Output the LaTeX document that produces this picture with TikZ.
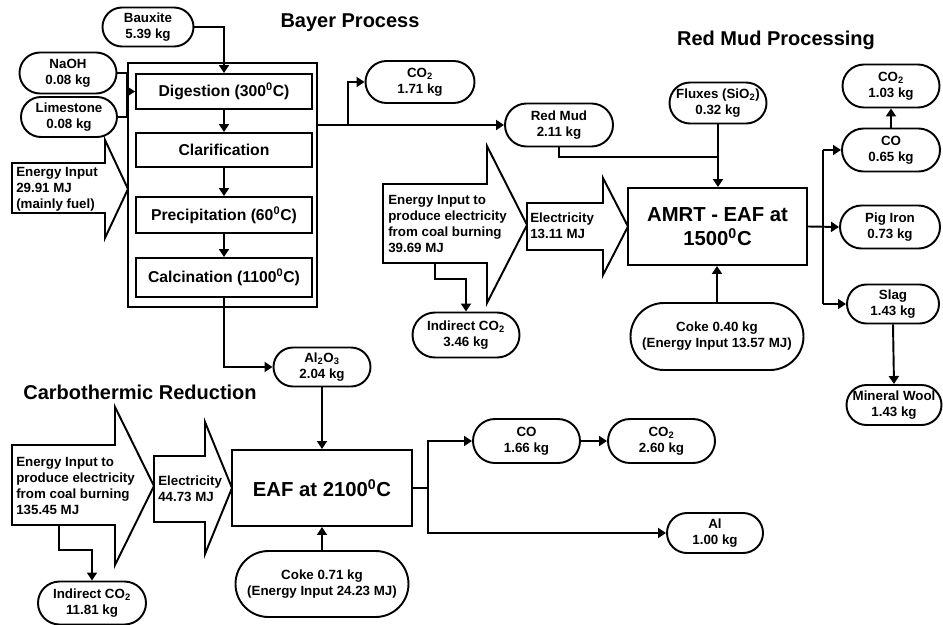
\documentclass[tikz,border=0pt]{standalone}
\usepackage{fontspec}
\setmainfont{Liberation Sans}
\usetikzlibrary{arrows.meta,shapes.misc}
\tikzset{
  lw/.style={line width=1.45pt},
  sz/.style 2 args={minimum width=#1*0.75pt, minimum height=#2*0.75pt},
  pill/.style={draw, lw, fill=white, rounded rectangle, inner sep=0pt, align=center, font=\fontsize{10}{12}\selectfont\bfseries},
  procbox/.style={draw, lw, fill=white, rectangle, inner sep=0pt, align=center, font=\fontsize{11.8}{14}\selectfont\bfseries},
  bigbox/.style={draw, lw, fill=white, rectangle, inner sep=0pt, align=center, font=\fontsize{15.2}{17.5}\selectfont\bfseries},
  outerbox/.style={draw, lw, rectangle, inner sep=0pt},
  titletext/.style={inner sep=0pt, font=\fontsize{15}{18}\selectfont\bfseries},
  blockarrow/.style={draw, lw, fill=white, line join=miter},
  arrtext/.style={anchor=west, align=left, inner sep=0pt, font=\fontsize{10}{12}\selectfont\bfseries},
  conn/.style={lw},
  arr/.style={lw, -{Triangle[length=6pt,width=7.5pt]}},
}
\begin{document}
\begin{tikzpicture}[x=0.75pt,y=-0.75pt]
\fill[white] (0,0) rectangle (943,625);
\useasboundingbox (0,0) rectangle (943,625);

% ---------- Titles
\node[titletext] (t1) at (350,23) {Bayer Process};
\node[titletext] (t2) at (776,40) {Red Mud Processing};
\node[titletext] (t3) at (140,392) {Carbothermic Reduction};

% ---------- Block arrows
\draw[blockarrow] (12,163) -- (105,163) -- (105,140) -- (128,189) -- (105,238) -- (105,213) -- (12,213) -- cycle;
\node[arrtext] (e0) at (16,189) {Energy Input\\29.91 MJ\\(mainly fuel)};

\draw[blockarrow] (383,184) -- (487,184) -- (487,146) -- (527,225) -- (487,303) -- (487,263) -- (383,263) -- cycle;
\node[arrtext] (e1) at (388,224) {Energy Input to\\produce electricity\\from coal burning\\39.69 MJ};
\draw[blockarrow] (527,203) -- (603,203) -- (603,178) -- (628,226.5) -- (603,275) -- (603,250) -- (527,250) -- cycle;
\node[arrtext] (el1) at (530,226) {Electricity\\13.11 MJ};

\draw[blockarrow] (12,445) -- (115,445) -- (115,407) -- (154,486) -- (115,565) -- (115,525) -- (12,525) -- cycle;
\node[arrtext] (e2) at (16,486) {Energy Input to\\produce electricity\\from coal burning\\135.45 MJ};
\draw[blockarrow] (154,456) -- (205,456) -- (205,422) -- (232,488) -- (205,554) -- (205,522) -- (154,522) -- cycle;
\node[arrtext] (el2) at (158,489) {Electricity\\44.73 MJ};

\coordinate (e1b) at (435,263);
\coordinate (e2b) at (59,525);

% ---------- Bayer process
\node[outerbox, sz={189}{244}] (bayerbox) at (222.5,185) {};
\node[pill, sz={91}{39}] (bauxite) at (148,27) {Bauxite\\5.39 kg};
\node[pill, sz={97}{41}] (naoh) at (68,73) {NaOH\\0.08 kg};
\node[pill, sz={96}{40}] (lime) at (69,117) {Limestone\\0.08 kg};
\node[procbox, sz={176}{35}] (dig) at (224,91.5) {Digestion (300\textsuperscript{0}C)};
\node[procbox, sz={176}{34}] (clar) at (224,150) {Clarification};
\node[procbox, sz={176}{36}] (prec) at (224,215) {Precipitation (60\textsuperscript{0}C)};
\node[procbox, sz={176}{39}] (calc) at (224,277.5) {Calcination (1100\textsuperscript{0}C)};

\node[pill, sz={109}{42}] (co2a) at (420,82) {CO\textsubscript{2}\\1.71 kg};
\node[pill, sz={108}{43}] (redmud) at (559,125) {Red Mud\\2.11 kg};

% ---------- Red mud processing
\node[pill, sz={97}{41}] (flux) at (718,103) {Fluxes (SiO\textsubscript{2})\\0.32 kg};
\node[bigbox, sz={179}{77}] (amrt) at (717.5,226.5) {AMRT - EAF at\\1500\textsuperscript{0}C};
\node[pill, sz={173}{67}] (coke1) at (717,336.5) {Coke 0.40 kg\\(Energy Input 13.57 MJ)};
\node[pill, sz={107}{45}] (ind1) at (466,335) {Indirect CO\textsubscript{2}\\3.46 kg};

\node[pill, sz={97}{43}] (co2b) at (891,86) {CO\textsubscript{2}\\1.03 kg};
\node[pill, sz={98}{43}] (co1) at (891,150) {CO\\0.65 kg};
\node[pill, sz={100}{43}] (pig) at (890,227) {Pig Iron\\0.73 kg};
\node[pill, sz={92}{39}] (slag) at (893,304) {Slag\\1.43 kg};
\node[pill, sz={95}{40}] (wool) at (894,405) {Mineral Wool\\1.43 kg};

% ---------- Carbothermic reduction
\node[pill, sz={97}{39}] (al2o3) at (322,367) {Al\textsubscript{2}O\textsubscript{3}\\2.04 kg};
\node[bigbox, sz={180}{76}] (eaf) at (322,488) {EAF at 2100\textsuperscript{0}C};
\node[pill, sz={173}{66}] (coke2) at (322,584) {Coke 0.71 kg\\(Energy Input 24.23 MJ)};
\node[pill, sz={108}{43}] (ind2) at (92,603) {Indirect CO\textsubscript{2}\\11.81 kg};
\node[pill, sz={107}{44}] (co3) at (526.5,441) {CO\\1.66 kg};
\node[pill, sz={107}{44}] (co2c) at (661.5,441) {CO\textsubscript{2}\\2.60 kg};
\node[pill, sz={96}{40}] (al) at (715,533) {Al\\1.00 kg};

% ---------- Connectors: Bayer
\draw[arr] (bauxite.east) -| (dig.north);
\coordinate (jn) at (bayerbox.west |- dig.west);
\draw[conn] (naoh.east) -| (jn);
\draw[conn] (lime.east) -| (jn);
\draw[arr] (jn) -- (dig.west);
\draw[arr] (dig.south) -- (clar.north);
\draw[arr] (clar.south) -- (prec.north);
\draw[arr] (prec.south) -- (calc.north);

\coordinate (rmout) at (bayerbox.east |- redmud.west);
\coordinate (br1) at (348,125);
\draw[arr] (rmout) -- (redmud.west);
\draw[arr] (br1) |- (co2a.west);

% ---------- Connectors: Red mud processing
\coordinate (rmj) at (718,157);
\draw[conn] (redmud.south) |- (rmj);
\draw[arr] (flux.south) -- (flux.south |- amrt.north);
\draw[arr] (coke1.north) -- (coke1.north |- amrt.south);
\coordinate (tip1) at (466,279);
\draw[arr] (e1b) |- (tip1) -- (ind1.north);

\coordinate (rb) at (823,226.5);
\draw[arr] (amrt.east) -- (pig.west);
\draw[conn] (rb |- co1.west) -- (rb |- slag.west);
\draw[arr] (rb |- co1.west) -- (co1.west);
\draw[arr] (rb |- slag.west) -- (slag.west);
\draw[arr] (co1.north) -- (co2b.south);
\draw[arr] (slag.south) -- (wool.north);

% ---------- Connectors: Carbothermic
\draw[arr] (calc.south) |- (al2o3.west);
\draw[arr] (al2o3.south) -- (eaf.north);
\draw[arr] (coke2.north) -- (eaf.south);
\coordinate (eb) at (428,488);
\draw[conn] (eaf.east) -- (eb);
\draw[arr] (eb) |- (co3.west);
\draw[arr] (eb) |- (al.west);
\draw[arr] (co3.east) -- (co2c.west);
\coordinate (tip2) at (92,550);
\draw[arr] (e2b) |- (tip2) -- (ind2.north);
\end{tikzpicture}
\end{document}
